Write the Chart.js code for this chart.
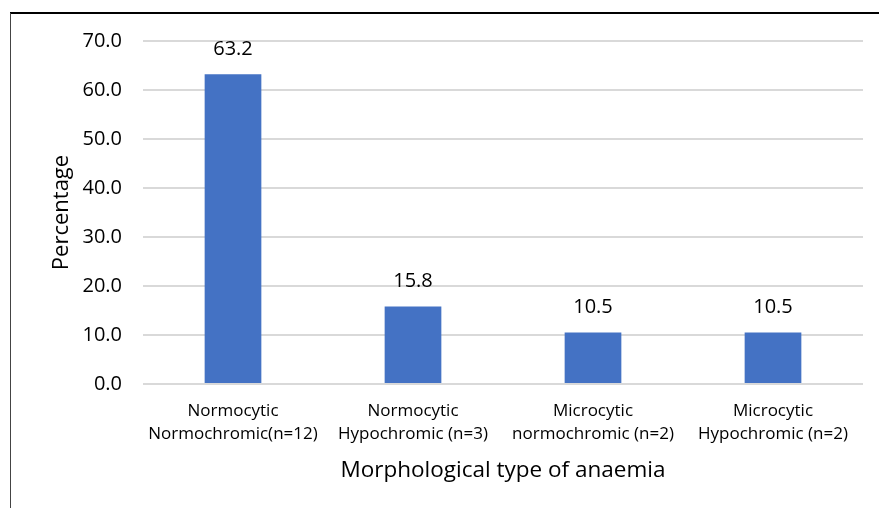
<!DOCTYPE html>
<html><head><meta charset="utf-8">
<script src="https://cdn.jsdelivr.net/npm/chart.js@4"></script>
<style>html,body{margin:0;padding:0;background:#fff;}#wrap{width:879px;height:508px;position:relative;}</style>
</head><body><div id="wrap"><canvas id="c" width="879" height="508"></canvas></div>
<script>
const categories = [["Normocytic","Normochromic(n=12)"],["Normocytic","Hypochromic (n=3)"],["Microcytic","normochromic (n=2)"],["Microcytic","Hypochromic (n=2)"]];
const percentages = [63.2, 15.8, 10.5, 10.5];
const yTicks = [0,10,20,30,40,50,60,70];
const FONT = "'Open Sans', sans-serif";

const decor = {
  id:'decor',
  afterDraw(chart){
    const ctx = chart.ctx;
    ctx.save();
    ctx.strokeStyle = '#000';
    ctx.lineWidth = 2;
    ctx.beginPath(); ctx.moveTo(10,13); ctx.lineTo(879,13); ctx.stroke();
    ctx.strokeStyle = '#444';
    ctx.lineWidth = 1;
    ctx.beginPath(); ctx.moveTo(10.5,13); ctx.lineTo(10.5,508); ctx.stroke();
    const meta = chart.getDatasetMeta(0);
    ctx.fillStyle = '#000';
    ctx.font = "20px 'Open Sans', sans-serif";
    ctx.textAlign = 'center';
    ctx.textBaseline = 'middle';
    meta.data.forEach((bar,i)=>{
      ctx.fillText(percentages[i].toFixed(1), bar.x, bar.y - 25);
    });
    ctx.restore();
  }
};

new Chart(document.getElementById('c'), {
  type:'bar',
  data:{labels:categories, datasets:[{data:percentages, backgroundColor:'#4472C4', barPercentage:0.63, categoryPercentage:0.5}]},
  options:{
    responsive:false, animation:false,
    layout:{padding:{left:49,right:16,top:41,bottom:24}},
    plugins:{legend:{display:false}, tooltip:{enabled:false}},
    scales:{
      x:{
        grid:{display:false, drawTicks:false},
        border:{display:false},
        ticks:{color:'#000', font:{family:FONT, size:17, lineHeight:1.35}, padding:16, maxRotation:0, autoSkip:false},
        title:{display:true, text:'Morphological type of anaemia', color:'#000', font:{family:FONT, size:22.5}, padding:{top:0,bottom:0}},
        afterFit(s){ s.height = 100; }
      },
      y:{
        min:0, max:70,
        afterBuildTicks(s){ s.ticks = yTicks.map(v=>({value:v})); },
        grid:{color:'#d9d9d9', lineWidth:2, drawTicks:false},
        border:{display:false},
        ticks:{color:'#000', font:{family:FONT, size:20}, padding:21, callback:v=>Number(v).toFixed(1)},
        title:{display:true, text:'Percentage', color:'#000', font:{family:FONT, size:22}, padding:{top:0,bottom:0}},
        afterFit(s){ s.width = 94; }
      }
    }
  },
  plugins:[decor]
});
</script></body></html>
